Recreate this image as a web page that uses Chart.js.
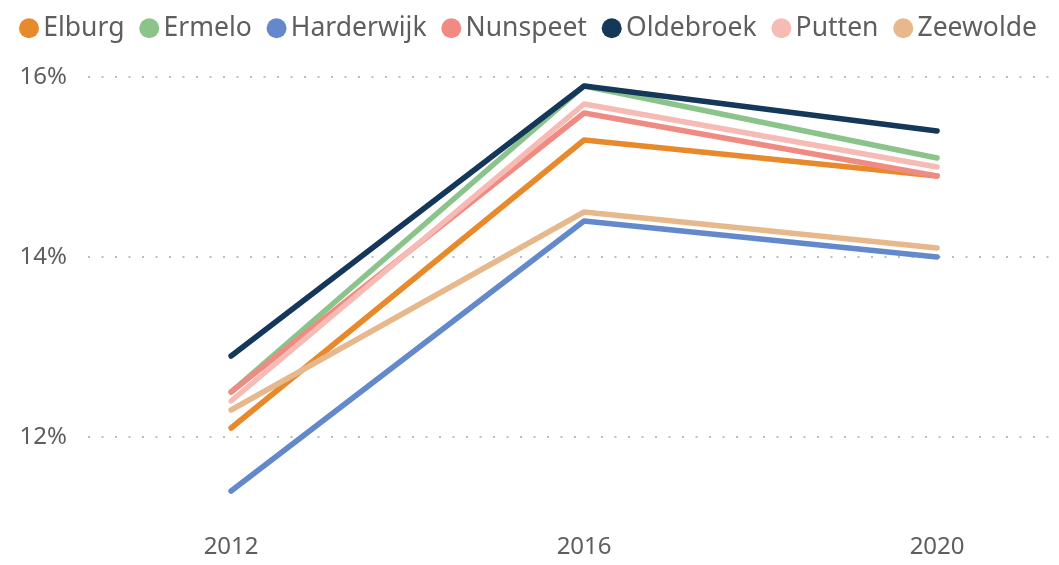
<!DOCTYPE html>
<html>
<head>
<meta charset="utf-8">
<script src="https://cdn.jsdelivr.net/npm/chart.js@4.4.1/dist/chart.umd.min.js"></script>
<style>
  html, body { margin: 0; padding: 0; background: #ffffff; }
  #wrap { width: 1059px; height: 565px; position: relative; }
</style>
</head>
<body>
<div id="wrap"><canvas id="c" width="1059" height="565"></canvas></div>
<script>
// ---- data ----
const years = [2012, 2016, 2020];
const seriesNames = ['Elburg', 'Ermelo', 'Harderwijk', 'Nunspeet', 'Oldebroek', 'Putten', 'Zeewolde'];
const elburg     = [12.1, 15.3, 14.9];
const ermelo     = [12.5, 15.9, 15.1];
const harderwijk = [11.4, 14.4, 14.0];
const nunspeet   = [12.5, 15.6, 14.9];
const oldebroek  = [12.9, 15.9, 15.4];
const putten     = [12.4, 15.7, 15.0];
const zeewolde   = [12.3, 14.5, 14.1];
const yTickValues = [12, 14, 16];

// ---- styles / layout ----
const seriesValues = [elburg, ermelo, harderwijk, nunspeet, oldebroek, putten, zeewolde];
const colors = ['#E8892B', '#8AC48A', '#6389CC', '#F08B84', '#14375A', '#F6BBB5', '#E6B88B'];
const textColor = '#605E5C';
const fontFamily = '"Noto Sans", "Open Sans", sans-serif';
// where the first/last gridline and first/last year should sit on the canvas
const gridTopPx = 77, gridBottomPx = 437, firstYearPx = 231.5, lastYearPx = 939.5;

const datasets = seriesNames.map((name, i) => ({
  label: name,
  data: years.map((yr, j) => ({ x: yr, y: seriesValues[i][j] })),
  borderColor: colors[i],
  backgroundColor: colors[i],
  borderWidth: 5.5,
  borderCapStyle: 'round',
  borderJoinStyle: 'round',
  pointRadius: 0,
  pointHoverRadius: 0,
  tension: 0,
  fill: false,
  order: seriesNames.length - i
}));

const chart = new Chart(document.getElementById('c'), {
  type: 'line',
  data: { datasets },
  options: {
    responsive: false,
    animation: false,
    layout: { padding: { top: 5, left: 18, right: 0, bottom: 3 } },
    plugins: {
      tooltip: { enabled: false },
      legend: {
        display: true,
        position: 'top',
        align: 'start',
        labels: {
          usePointStyle: true,
          pointStyle: 'circle',
          boxWidth: 2,
          boxHeight: 14.14,
          padding: 10,
          color: textColor,
          font: { family: fontFamily, size: 26.5 },
          generateLabels(chart) {
            const items = Chart.defaults.plugins.legend.labels.generateLabels(chart);
            items.sort((a, b) => a.datasetIndex - b.datasetIndex);
            items.forEach(it => {
              it.lineWidth = 0;
              it.fillStyle = colors[it.datasetIndex];
              it.strokeStyle = colors[it.datasetIndex];
              if (it.datasetIndex < seriesNames.length - 1) it.text = it.text + '  ';
            });
            return items;
          }
        }
      }
    },
    scales: {
      x: {
        type: 'linear',
        min: 2010.4,
        max: 2021.35,
        afterFit(scale) { scale.height = 50.8; },
        grid: { display: false, drawTicks: false },
        border: { display: false },
        afterBuildTicks(scale) { scale.ticks = years.map(v => ({ value: v })); },
        ticks: {
          padding: 22,
          color: textColor,
          font: { family: fontFamily, size: 24 },
          maxRotation: 0,
          callback: v => String(v)
        }
      },
      y: {
        type: 'linear',
        min: 11.2,
        max: 16.3,
        afterFit(scale) { scale.width = 70; },
        afterBuildTicks(scale) { scale.ticks = yTickValues.map(v => ({ value: v })); },
        grid: {
          drawTicks: false,
          color: '#BDBDBD',
          lineWidth: 2
        },
        border: { display: false, dash: [2, 11.5] },
        ticks: {
          padding: 21,
          color: textColor,
          font: { family: fontFamily, size: 24 },
          callback: v => v + '%'
        }
      }
    }
  }
});

// calibrate axis ranges so gridlines / year positions land where the reference has them
(function calibrate() {
  const ca = chart.chartArea;
  const yLo = yTickValues[0], yHi = yTickValues[yTickValues.length - 1];
  const yPer = (gridBottomPx - gridTopPx) / (yHi - yLo);
  chart.options.scales.y.min = yLo - (ca.bottom - gridBottomPx) / yPer;
  chart.options.scales.y.max = yHi + (gridTopPx - ca.top) / yPer;
  const xLo = years[0], xHi = years[years.length - 1];
  const xPer = (lastYearPx - firstYearPx) / (xHi - xLo);
  chart.options.scales.x.min = xLo - (firstYearPx - ca.left) / xPer;
  chart.options.scales.x.max = xHi + (ca.right - lastYearPx) / xPer;
  chart.update('none');
})();
</script>
</body>
</html>
